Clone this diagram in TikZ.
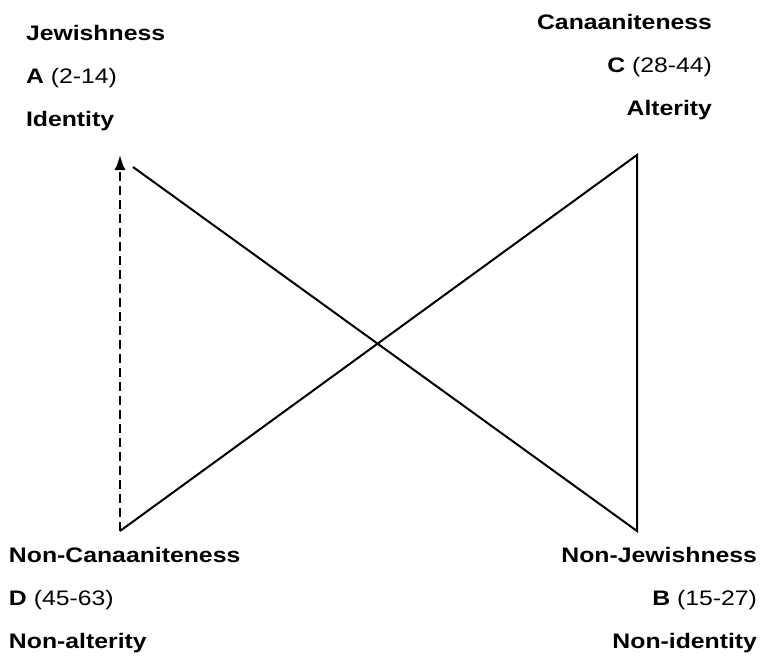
\documentclass[tikz,border=0pt]{standalone}
\usepackage{fontspec}
\setmainfont{Liberation Sans}[FakeStretch=1.18]
\usetikzlibrary{arrows.meta}
\begin{document}
\begin{tikzpicture}[x=1pt, y=-1pt,
    line width=2pt,
    lbl/.style={inner sep=0pt, font=\fontsize{21}{43}\selectfont},
    every node/.style={lbl}]
                \useasboundingbox (0,0) rectangle (761,659);
                
                \coordinate (A) at (120,155);
                \coordinate (Aend) at (133,167);
                \coordinate (C) at (637,155);
                \coordinate (D) at (120,531);
                \coordinate (B) at (637,531);
                
                % Corner labels
                \node[anchor=north west, align=left] (labA) at (25,24) {\textbf{Jewishness}\\\textbf{A} (2-14)\\\textbf{Identity}};
                \node[anchor=north east, align=right] (labC) at (713,13) {\textbf{Canaaniteness}\\\textbf{C} (28-44)\\\textbf{Alterity}};
                \node[anchor=north west, align=left] (labD) at (8,546) {\textbf{Non-Canaaniteness}\\\textbf{D} (45-63)\\\textbf{Non-alterity}};
                \node[anchor=north east, align=right] (labB) at (758,546.5) {\textbf{Non-Jewishness}\\\textbf{B} (15-27)\\\textbf{Non-identity}};
                
                % Square of oppositions
                \draw[dash pattern=on 9pt off 5pt, -{Latex[length=15pt, width=11pt]}] (D) -- (A);
                \draw[line join=miter] (Aend) -- (B) -- (C) -- (D);
            \end{tikzpicture}
\end{document}
